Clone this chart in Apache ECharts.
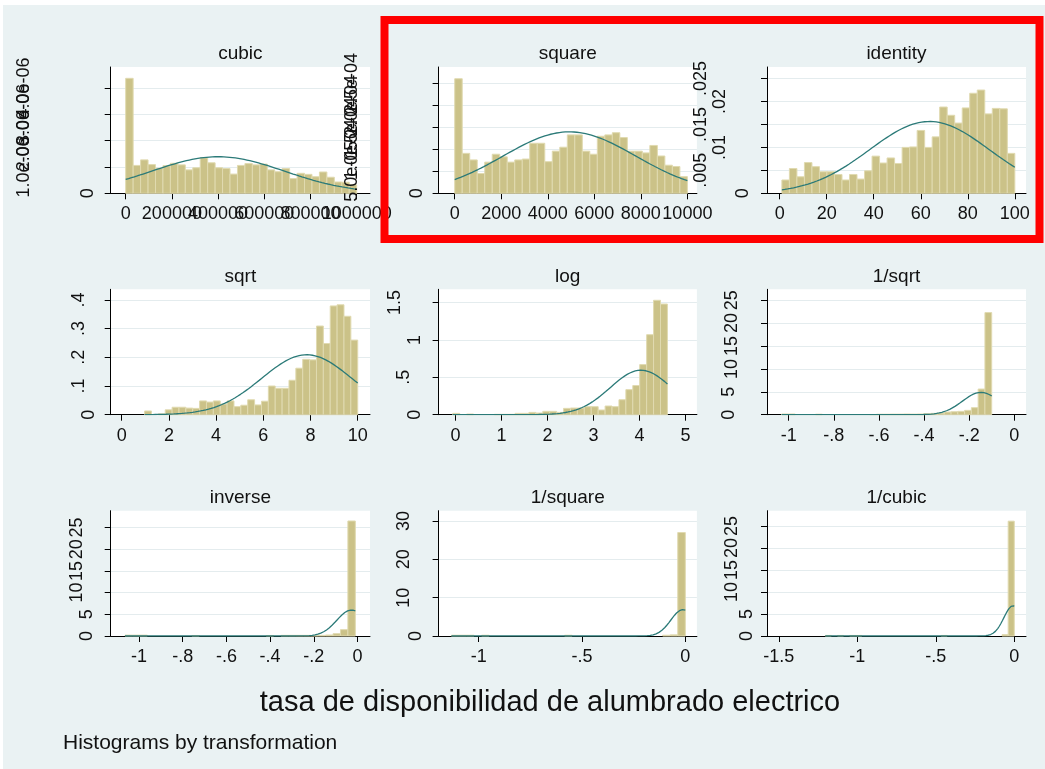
<!DOCTYPE html>
<html>
<head>
<meta charset="utf-8">
<script src="https://cdn.jsdelivr.net/npm/echarts@6/dist/echarts.min.js"></script>
<style>
  html, body { margin: 0; padding: 0; background: #ffffff; }
  #chart { width: 1045px; height: 769px; }
</style>
</head>
<body>
<div id="chart"></div>
<script>
// ---------------- data ----------------
// Ladder of powers of "tasa de disponibilidad de alumbrado electrico":
// histogram densities (31 equal bins per transformation) plus a fitted normal curve.
const panelTitles = ['cubic', 'square', 'identity', 'sqrt', 'log', '1/sqrt', 'inverse', '1/square', '1/cubic'];

const cubicDensity = [4.37e-6, 1.06e-6, 1.27e-6, 1.09e-6, 0.95e-6, 1.05e-6, 1.14e-6, 1.08e-6, 0.89e-6, 0.97e-6,
  1.35e-6, 1.16e-6, 0.97e-6, 0.94e-6, 0.73e-6, 1.06e-6, 1.13e-6, 1.08e-6, 1.11e-6, 0.89e-6,
  0.82e-6, 0.94e-6, 0.56e-6, 0.76e-6, 0.72e-6, 0.63e-6, 0.81e-6, 0.61e-6, 0.43e-6, 0.42e-6, 0.32e-6];
const squareDensity = [2.61e-4, 0.91e-4, 0.76e-4, 0.45e-4, 0.71e-4, 0.89e-4, 0.83e-4, 0.71e-4, 0.76e-4, 0.78e-4,
  1.14e-4, 1.14e-4, 0.72e-4, 0.96e-4, 1.05e-4, 1.33e-4, 1.33e-4, 0.96e-4, 0.89e-4, 1.30e-4,
  1.33e-4, 1.38e-4, 1.27e-4, 0.96e-4, 0.96e-4, 0.92e-4, 1.09e-4, 0.85e-4, 0.64e-4, 0.61e-4, 0.38e-4];
const identityDensity = [.0029, .0054, .0036, .0067, .0058, .0047, .0047, .0041, .0029, .0041,
  .0031, .0049, .0081, .0066, .0077, .0065, .0100, .0101, .0137, .0100,
  .0123, .0188, .0170, .0153, .0186, .0218, .0225, .0173, .0185, .0184, .0087];
const sqrtDensity = [.013, 0, .003, .017, .026, .026, .023, .022, .048, .044,
  .048, .037, .048, .028, .033, .052, .034, .047, .100, .092,
  .092, .120, .162, .193, .191, .309, .248, .379, .383, .343, .260];
const logDensity = [.018, 0, .009, 0, 0, 0, .005, .005, .005, .018,
  .018, .031, .022, .045, .045, .031, .085, .089, .089, .107,
  .107, .0625, .116, .107, .200, .335, .390, .670, 1.07, 1.53, 1.48];
const invSqrtDensity = [.15, .15, 0, 0, 0, .11, 0, 0, 0, 0,
  0, 0, 0, .05, .10, .10, .12, .12, .15, .12,
  .15, .22, .29, .36, .58, .65, .73, .95, 1.53, 5.6, 22.3];
const inverseDensity = [.2, .2, .2, 0, 0, 0, 0, 0, 0, .12,
  0, 0, 0, 0, 0, 0, 0, 0, 0, .12,
  0, .15, .15, .15, .15, .10, .15, .23, .54, 1.46, 26.5];
const invSquareDensity = [.2, .2, .2, 0, .2, 0, 0, 0, 0, 0,
  0, 0, 0, 0, 0, .2, 0, 0, 0, 0,
  0, 0, 0, 0, 0, 0, 0, 0, .2, .3, 27.0];
const invCubicDensity = [.13, 0, .13, 0, .13, .13, 0, 0, 0, 0,
  0, 0, 0, 0, 0, 0, 0, 0, 0, .13,
  0, 0, 0, 0, 0, 0, 0, 0, 0, .3, 26.1];

const panelDensity = [cubicDensity, squareDensity, identityDensity, sqrtDensity, logDensity,
  invSqrtDensity, inverseDensity, invSquareDensity, invCubicDensity];

// data range (min, max) of each transformed variable: the bins span it
const binRanges = [[0.83, 1000000], [0.88, 10000], [0.94, 100], [0.97, 10], [-0.062, 4.605],
  [-1.031, -0.1], [-1.064, -0.01], [-1.132, -0.0001], [-1.204, -0.000001]];

// mean and standard deviation of the fitted normal density
const normalMean = [400000, 4930, 63.7, 7.84, 4.03, -0.148, -0.028, -0.012, -0.008];
const normalSd = [287000, 2850, 25.5, 1.91, 0.67, 0.082, 0.0666, 0.058, 0.058];

// tick values and their labels
const xTickValues = [
  [0, 200000, 400000, 600000, 800000, 1000000],
  [0, 2000, 4000, 6000, 8000, 10000],
  [0, 20, 40, 60, 80, 100],
  [0, 2, 4, 6, 8, 10],
  [0, 1, 2, 3, 4, 5],
  [-1, -0.8, -0.6, -0.4, -0.2, 0],
  [-1, -0.8, -0.6, -0.4, -0.2, 0],
  [-1, -0.5, 0],
  [-1.5, -1, -0.5, 0]
];
const xTickLabels = [
  ['0', '200000', '400000', '600000', '800000', '1000000'],
  ['0', '2000', '4000', '6000', '8000', '10000'],
  ['0', '20', '40', '60', '80', '100'],
  ['0', '2', '4', '6', '8', '10'],
  ['0', '1', '2', '3', '4', '5'],
  ['-1', '-.8', '-.6', '-.4', '-.2', '0'],
  ['-1', '-.8', '-.6', '-.4', '-.2', '0'],
  ['-1', '-.5', '0'],
  ['-1.5', '-1', '-.5', '0']
];
const yTickValues = [
  [0, 1e-6, 2e-6, 3e-6, 4e-6],
  [0, 5e-5, 1e-4, 1.5e-4, 2e-4, 2.5e-4],
  [0, .005, .01, .015, .02, .025],
  [0, .1, .2, .3, .4],
  [0, .5, 1, 1.5],
  [0, 5, 10, 15, 20, 25],
  [0, 5, 10, 15, 20, 25],
  [0, 10, 20, 30],
  [0, 5, 10, 15, 20, 25]
];
const yTickLabels = [
  ['0', '1.0e-06', '2.0e-06', '3.0e-06', '4.0e-06'],
  ['0', '5.0e-05', '1.0e-04', '1.5e-04', '2.0e-04', '2.5e-04'],
  ['0', '.005', '.01', '.015', '.02', '.025'],
  ['0', '.1', '.2', '.3', '.4'],
  ['0', '.5', '1', '1.5'],
  ['0', '5', '10', '15', '20', '25'],
  ['0', '5', '10', '15', '20', '25'],
  ['0', '10', '20', '30'],
  ['0', '5', '10', '15', '20', '25']
];

const axisTitle = 'tasa de disponibilidad de alumbrado electrico';
const noteText = 'Histograms by transformation';

// ---------------- layout ----------------
const colLeft = [110.7, 438.6, 767];
const colWidth = [259.3, 258.3, 259];
const rowTop = [67, 289.3, 510.7];
const rowHeight = [126.3, 125.4, 125.3];
const xExtent = [[-64900, 1057600], [-692, 10409], [-5.39, 104.75], [-0.466, 10.52], [-0.37, 5.246],
  [-1.096, 0.052], [-1.1295, 0.0572], [-1.194, 0.056], [-1.575, 0.0747]];
const yExtentMax = [4.80e-6, 2.877e-4, 0.02752, 0.437, 1.677, 27.38, 28.87, 32.7, 28.48];
// distance of every vertical y label from its axis line
const yLabelMargin = [
  [14, 78, 78, 78, 78],
  [13, 78, 78, 78, 78, 78],
  [15, 57, 38, 57, 38, 57],
  [13, 23, 23, 23, 23],
  [15, 26, 15, 35],
  [29, 29, 26, 26, 26, 26],
  [15, 15, 25, 25, 25, 25],
  [14, 26, 26, 26],
  [11, 11, 26, 26, 26, 26]
];

const FONT = "'Liberation Sans', Arial, sans-serif";
const INK = '#111111';
const BAR_FILL = '#CBC288';
const BAR_EDGE = '#E0DAB0';
const CURVE = '#2B7A78';
const GRID_LINE = '#E4ECEE';
const PAGE_BG = '#EAF2F3';

// ---------------- build ----------------
const grids = [], xAxes = [], yAxes = [], series = [], graphics = [];

graphics.push({ type: 'rect', z: -10, silent: true,
  shape: { x: 3, y: 5, width: 1042, height: 764 }, style: { fill: PAGE_BG } });

panelTitles.forEach((title, i) => {
  const r = Math.floor(i / 3), c = i % 3;
  grids.push({
    left: colLeft[c], top: rowTop[r], width: colWidth[c], height: rowHeight[r],
    show: true, backgroundColor: '#ffffff', borderWidth: 0,
    containLabel: false, outerBoundsMode: 'none'
  });

  const xMin = xExtent[i][0], xMax = xExtent[i][1];
  const yMax = yExtentMax[i];

  // main x axis: line and ticks
  const xMain = xAxes.length;
  xAxes.push({
    type: 'value', gridIndex: i, position: 'bottom', min: xMin, max: xMax,
    axisLine: { show: true, onZero: false, lineStyle: { color: '#000', width: 1 } },
    axisTick: { show: true, length: 6, customValues: xTickValues[i], lineStyle: { color: '#000', width: 1 } },
    axisLabel: { show: false }, splitLine: { show: false }
  });
  // one label axis per tick label so overlapping labels all stay visible
  xTickValues[i].forEach((v, k) => {
    xAxes.push({
      type: 'value', gridIndex: i, position: 'bottom', min: xMin, max: xMax, z: 6,
      axisLine: { show: false, onZero: false }, axisTick: { show: false }, splitLine: { show: false },
      axisLabel: {
        show: true, customValues: [v], formatter: () => xTickLabels[i][k], hideOverlap: false,
        margin: 12, color: INK, fontSize: 18, fontFamily: FONT
      }
    });
  });

  // main y axis: line, ticks and horizontal grid lines
  const yMain = yAxes.length;
  yAxes.push({
    type: 'value', gridIndex: i, position: 'left', min: 0, max: yMax,
    axisLine: { show: true, onZero: false, lineStyle: { color: '#000', width: 1 } },
    axisTick: { show: true, length: 6, customValues: yTickValues[i], lineStyle: { color: '#000', width: 1 } },
    axisLabel: { show: false },
    splitLine: { show: true, lineStyle: { color: GRID_LINE, width: 1 } }
  });
  yTickValues[i].forEach((v, k) => {
    yAxes.push({
      type: 'value', gridIndex: i, position: 'left', min: 0, max: yMax, z: 6,
      axisLine: { show: false, onZero: false }, axisTick: { show: false }, splitLine: { show: false },
      axisLabel: {
        show: true, customValues: [v], formatter: () => yTickLabels[i][k], hideOverlap: false,
        rotate: 90, margin: yLabelMargin[i][k], color: INK, fontSize: 18, fontFamily: FONT
      }
    });
  });

  // histogram bars
  const dens = panelDensity[i];
  const lo = binRanges[i][0], hi = binRanges[i][1];
  const w = (hi - lo) / dens.length;
  const bars = [];
  dens.forEach((d, k) => { if (d > 0) bars.push([lo + k * w, lo + (k + 1) * w, d]); });
  series.push({
    type: 'custom', xAxisIndex: xMain, yAxisIndex: yMain, z: 2, silent: true,
    encode: { x: [0, 1], y: 2 },
    data: bars,
    renderItem: (params, api) => {
      const p0 = api.coord([api.value(0), api.value(2)]);
      const p1 = api.coord([api.value(1), 0]);
      return {
        type: 'rect',
        shape: { x: p0[0], y: p0[1], width: p1[0] - p0[0], height: p1[1] - p0[1] },
        style: { fill: BAR_FILL, stroke: BAR_EDGE, lineWidth: 1 }
      };
    }
  });

  // normal density with the same mean and sd
  const m = normalMean[i], s = normalSd[i];
  const curve = [];
  const steps = 240;
  for (let k = 0; k <= steps; k++) {
    const x = lo + (hi - lo) * k / steps;
    const z = (x - m) / s;
    curve.push([x, Math.exp(-0.5 * z * z) / (s * Math.sqrt(2 * Math.PI))]);
  }
  series.push({
    type: 'line', xAxisIndex: xMain, yAxisIndex: yMain, z: 3, silent: true,
    data: curve, showSymbol: false, symbol: 'none', animation: false,
    lineStyle: { color: CURVE, width: 1.3 }
  });

  // panel title
  graphics.push({
    type: 'text', z: 20, silent: true,
    x: colLeft[c] + colWidth[c] / 2, y: rowTop[r] - 13,
    style: { text: title, fill: INK, font: `19px ${FONT}`, fontSize: 19, fontFamily: FONT,
      align: 'center', verticalAlign: 'middle', textAlign: 'center', textVerticalAlign: 'middle' }
  });
});

graphics.push({
  type: 'text', z: 20, silent: true, x: 550, y: 703,
  style: { text: axisTitle, fill: INK, font: `29px ${FONT}`, fontSize: 29, fontFamily: FONT,
    align: 'center', verticalAlign: 'middle', textAlign: 'center', textVerticalAlign: 'middle' }
});
graphics.push({
  type: 'text', z: 20, silent: true, x: 63, y: 743,
  style: { text: noteText, fill: INK, font: `21px ${FONT}`, fontSize: 21, fontFamily: FONT,
    align: 'left', verticalAlign: 'middle', textAlign: 'left', textVerticalAlign: 'middle' }
});
// highlight frame round the square and identity panels
graphics.push({
  type: 'rect', z: 50, silent: true,
  shape: { x: 384.5, y: 20, width: 655, height: 219 },
  style: { fill: 'none', stroke: '#FF0000', lineWidth: 8 }
});

const chart = echarts.init(document.getElementById('chart'), null, { renderer: 'canvas' });
chart.setOption({
  backgroundColor: '#ffffff',
  animation: false,
  grid: grids,
  xAxis: xAxes,
  yAxis: yAxes,
  series: series,
  graphic: { elements: graphics }
});
</script>
</body>
</html>
